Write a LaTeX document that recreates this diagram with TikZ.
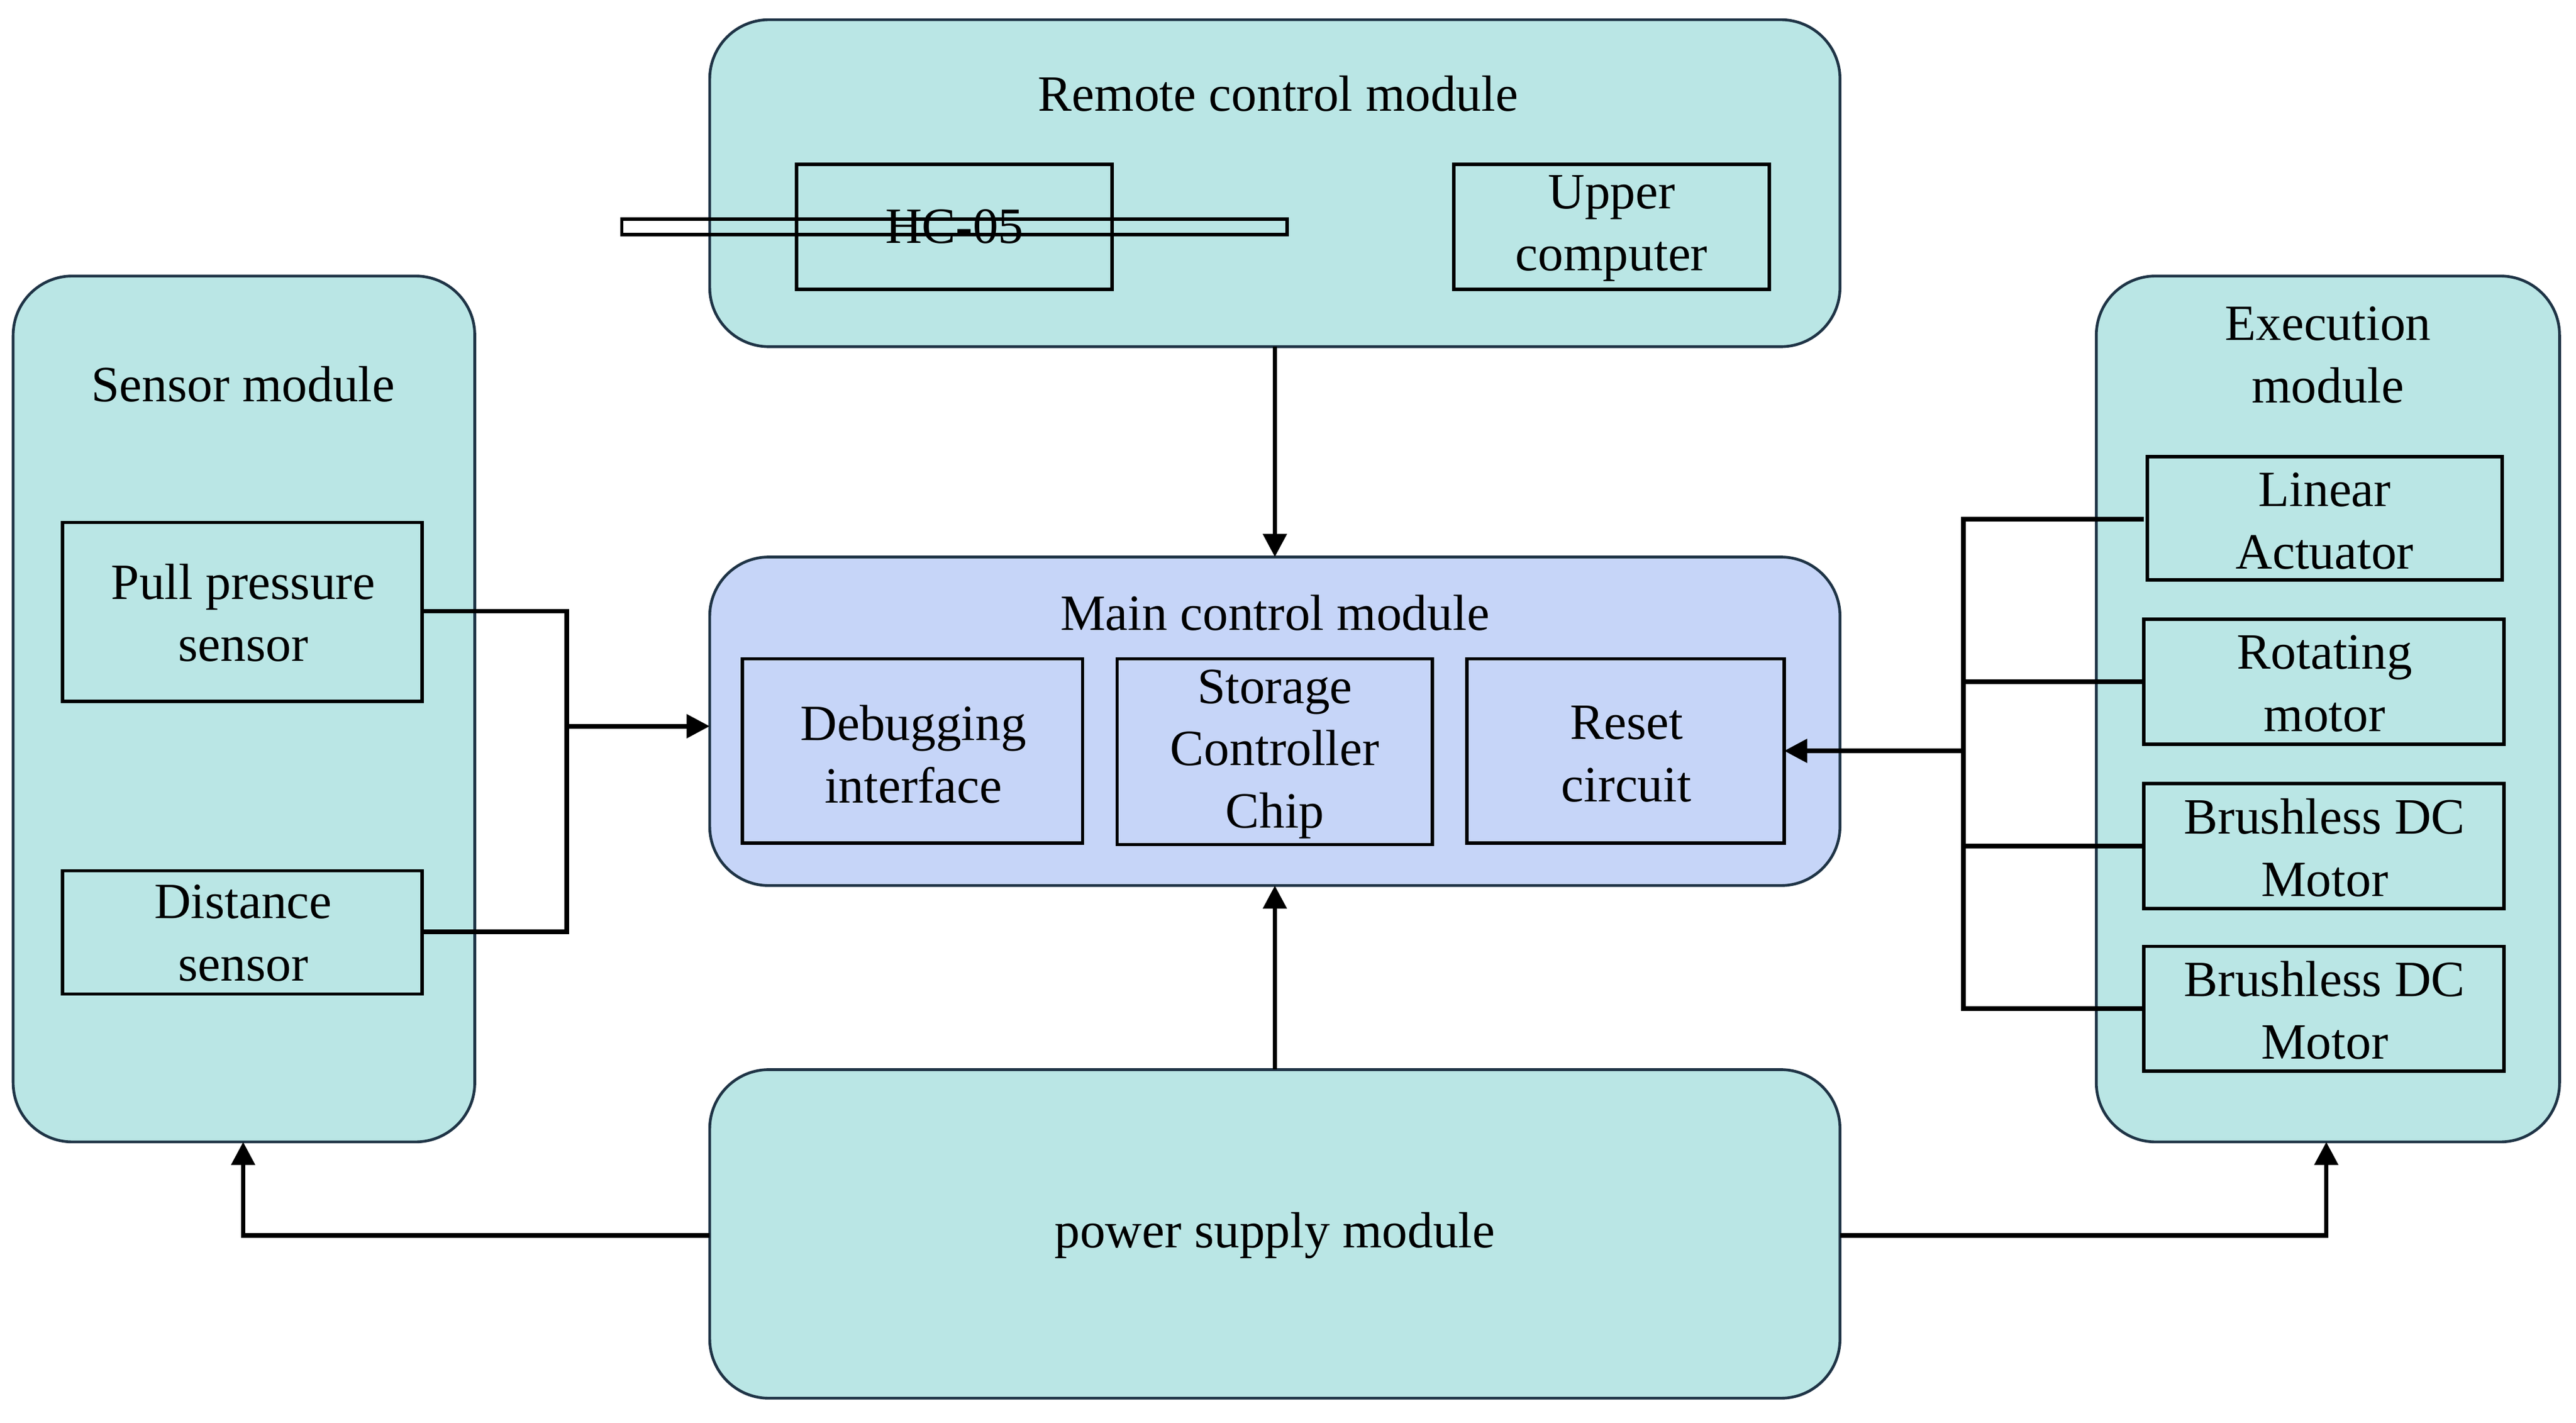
\documentclass[tikz,border=0pt]{standalone}
\usepackage{fontspec}
\setmainfont{Liberation Serif}
\usetikzlibrary{arrows.meta}
\definecolor{teal1}{HTML}{BAE6E5}
\definecolor{lav}{HTML}{C6D5F8}
\definecolor{bord}{HTML}{1F3446}
\begin{document}
\begin{tikzpicture}[x=0.025cm,y=-0.025cm,
  every node/.style={font=\fontsize{22}{27}\selectfont,align=center},
  mod/.style={draw=bord,line width=1.2pt,rounded corners=0.9cm,fill=teal1},
  box/.style={draw=black,line width=1.5pt,fill=none},
  con/.style={line width=2pt,draw=black},
  arr/.style={con,-{Triangle[length=10pt,width=10pt]}}]
\useasboundingbox (0,0) rectangle (1568,866);
% modules
\draw[mod] (432,12) rectangle (1120,211);
\node (remote) at (776,111) {};
\node at (778,57) {Remote control module};
\draw[mod] (8,168) rectangle (289,695);
\node at (148,234) {Sensor module};
\draw[mod] (1276,168) rectangle (1558,695);
\node at (1417,216) {Execution\\module};
\draw[mod,fill=lav] (432,339) rectangle (1120,539);
\node at (776,373) {Main control module};
\draw[mod] (432,651) rectangle (1120,851);
\node (power) at (776,752) {power supply module};
% named coordinates
\coordinate (rb) at (776,211); \coordinate (mt) at (776,339);
\coordinate (pt) at (776,651); \coordinate (mb) at (776,539);
\coordinate (ml) at (432,442);
\coordinate (pl) at (432,752); \coordinate (pr) at (1120,752);
\coordinate (sb) at (148,695); \coordinate (eb) at (1416,695);
% inner boxes
\node[box,minimum width=192\pgflinewidth] (hc) at (581,138) {};
\draw[box] (485,100) rectangle (677,176); \node at (581,138) {HC-05};
\draw[box] (885,100) rectangle (1077,176); \node at (981,139) {Upper\\computer};
\draw[box] (38,318) rectangle (257,427); \node at (148,373) {Pull pressure\\sensor};
\draw[box] (38,530) rectangle (257,605); \node at (148,568) {Distance\\sensor};
\draw[box] (452,401) rectangle (659,513); \node at (556,459) {Debugging\\interface};
\draw[box] (680,401) rectangle (872,514); \node at (776,459) {Storage\\Controller\\Chip};
\draw[box] (893,401) rectangle (1086,513); \node at (990,459) {Reset\\circuit};
\draw[box] (1307,278) rectangle (1523,353); \node at (1415,317) {Linear\\Actuator};
\draw[box] (1305,377) rectangle (1524,453); \node at (1415,416) {Rotating\\motor};
\draw[box] (1305,477) rectangle (1524,553); \node at (1415,516) {Brushless DC\\Motor};
\draw[box] (1305,576) rectangle (1524,652); \node at (1415,615) {Brushless DC\\Motor};
\coordinate (pp) at (257,372); \coordinate (ds) at (257,567);
\coordinate (la) at (1305,316); \coordinate (rm) at (1305,415);
\coordinate (b1) at (1305,515); \coordinate (b2) at (1305,614);
\coordinate (rr) at (1086,457);
% connectors
\draw[arr] (rb) -- (mt);
\draw[arr] (pt) -- (mb);
\draw[con] (pp) -| (345,567) -- (ds);
\draw[arr] (345,442) -- (ml);
\draw[con] (la) -| (1195,614) -- (b2);
\draw[con] (rm) -- (1195,415);
\draw[con] (b1) -- (1195,515);
\draw[arr] (1195,457) -- (rr);
\draw[arr] (pl) -| (sb);
\draw[arr] (pr) -| (eb);
\end{tikzpicture}
\end{document}
